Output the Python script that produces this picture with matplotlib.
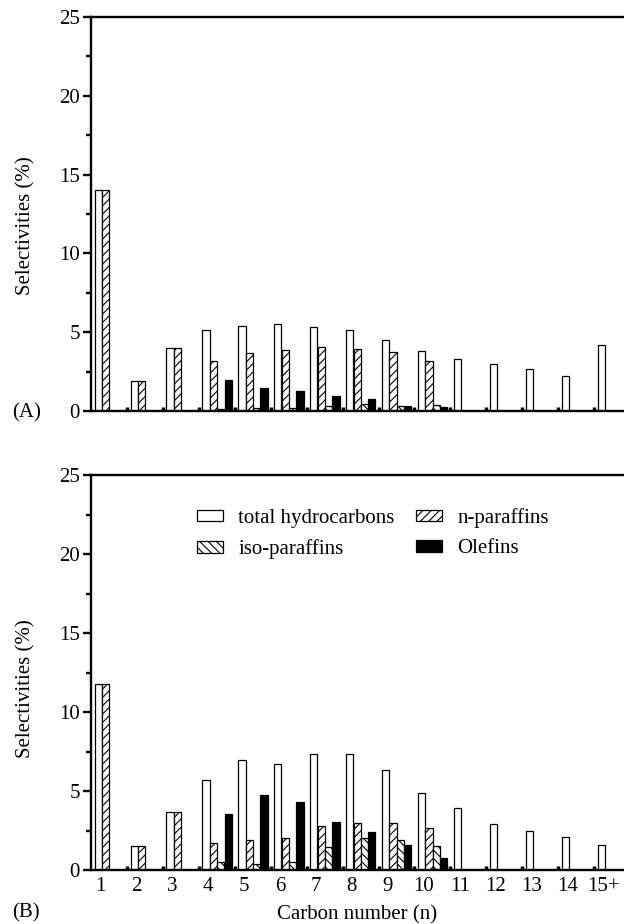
import matplotlib
matplotlib.use("Agg")
import matplotlib.pyplot as plt
import numpy as np

plt.rcParams['font.family'] = ['Liberation Serif', 'DejaVu Serif']
plt.rcParams['hatch.linewidth'] = 0.8

carbon_labels = ['1', '2', '3', '4', '5', '6', '7', '8', '9', '10', '11', '12', '13', '14', '15+']

# panel A
total_a = [14.0, 1.9, 4.0, 5.16, 5.37, 5.5, 5.36, 5.14, 4.5, 3.81, 3.32, 2.98, 2.66, 2.22, 4.17]
npar_a = [14.0, 1.9, 4.0, 3.19, 3.68, 3.89, 4.08, 3.91, 3.76, 3.19, 0, 0, 0, 0, 0]
iso_a = [0, 0, 0, 0.1, 0.18, 0.22, 0.3, 0.44, 0.32, 0.36, 0, 0, 0, 0, 0]
olef_a = [0, 0, 0, 1.95, 1.48, 1.25, 0.95, 0.74, 0.34, 0.23, 0, 0, 0, 0, 0]

# panel B
total_b = [11.75, 1.54, 3.65, 5.72, 6.94, 6.71, 7.32, 7.32, 6.35, 4.85, 3.95, 2.91, 2.45, 2.07, 1.6]
npar_b = [11.75, 1.54, 3.65, 1.69, 1.9, 2.0, 2.81, 2.95, 2.95, 2.63, 0, 0, 0, 0, 0]
iso_b = [0, 0, 0, 0.53, 0.38, 0.5, 1.43, 2.0, 1.9, 1.52, 0, 0, 0, 0, 0]
olef_b = [0, 0, 0, 3.54, 4.75, 4.32, 3.06, 2.43, 1.58, 0.74, 0, 0, 0, 0, 0]

series_names = ['total hydrocarbons', 'n-paraffins', 'iso-paraffins', 'Olefins']
styles = [
    dict(facecolor='white', hatch=None),
    dict(facecolor='white', hatch='////'),
    dict(facecolor='white', hatch='\\\\\\\\'),
    dict(facecolor='black', hatch=None),
]

FS = 15

fig = plt.figure(figsize=(6.24, 9.24), dpi=100)
ax_a = fig.add_axes([0.1458, 0.5552, 0.8542, 0.4264])
ax_b = fig.add_axes([0.1458, 0.0584, 0.8542, 0.4275])

n = len(carbon_labels)
x0 = np.arange(n)
bw = 0.2


def draw_panel(ax, data, show_xlabels, ylab_y):
    bars = []
    for i, (vals, st) in enumerate(zip(data, styles)):
        b = ax.bar(x0 + 0.1 + i * 0.205, vals, width=bw, align='edge',
                   edgecolor='black', linewidth=0.9, label=series_names[i], **st)
        bars.append(b)
    ax.set_xlim(0, 14.83)
    ax.set_ylim(0, 25)
    ax.set_yticks(np.arange(0, 26, 5))
    ax.set_yticks(np.arange(2.5, 25, 5), minor=True)
    ax.spines['right'].set_visible(False)
    for s in ['left', 'top', 'bottom']:
        ax.spines[s].set_linewidth(1.7)
    ax.tick_params(axis='y', which='major', direction='out', length=6, width=1.7,
                   labelsize=FS, pad=2)
    ax.tick_params(axis='y', which='minor', direction='out', length=3.6, width=1.7)
    # group separators as short inward ticks
    ax.set_xticks(np.arange(1, n))
    ax.tick_params(axis='x', which='major', direction='in', length=3, width=2.5,
                   labelbottom=False)
    if show_xlabels:
        ax.set_xticks(x0 + 0.26, minor=True)
        ax.set_xticklabels(carbon_labels, minor=True)
        ax.tick_params(axis='x', which='minor', length=0, labelsize=FS, pad=5)
    else:
        ax.tick_params(axis='x', which='minor', length=0)
    ax.set_ylabel('Selectivities (%)', fontsize=FS)
    ax.yaxis.set_label_coords(-0.105, ylab_y)
    return bars


draw_panel(ax_a, [total_a, npar_a, iso_a, olef_a], False, 0.47)
bars_b = draw_panel(ax_b, [total_b, npar_b, iso_b, olef_b], True, 0.46)
ax_b.set_xlabel('Carbon number (n)', fontsize=FS, labelpad=7)

handles = [bars_b[0], bars_b[2], bars_b[1], bars_b[3]]
labels = [series_names[0], series_names[2], series_names[1], series_names[3]]
ax_b.legend(handles, labels, ncol=2, frameon=False, fontsize=FS,
            loc='upper left', bbox_to_anchor=(0.179, 0.943), borderpad=0,
            handlelength=1.25, handleheight=0.5, handletextpad=0.75,
            columnspacing=1.0, labelspacing=0.55)

fig.text(0.019, 0.553, '(A)', fontsize=FS, ha='left', va='center')
fig.text(0.019, 0.012, '(B)', fontsize=FS, ha='left', va='center')

fig.savefig('out.png', dpi=100)
